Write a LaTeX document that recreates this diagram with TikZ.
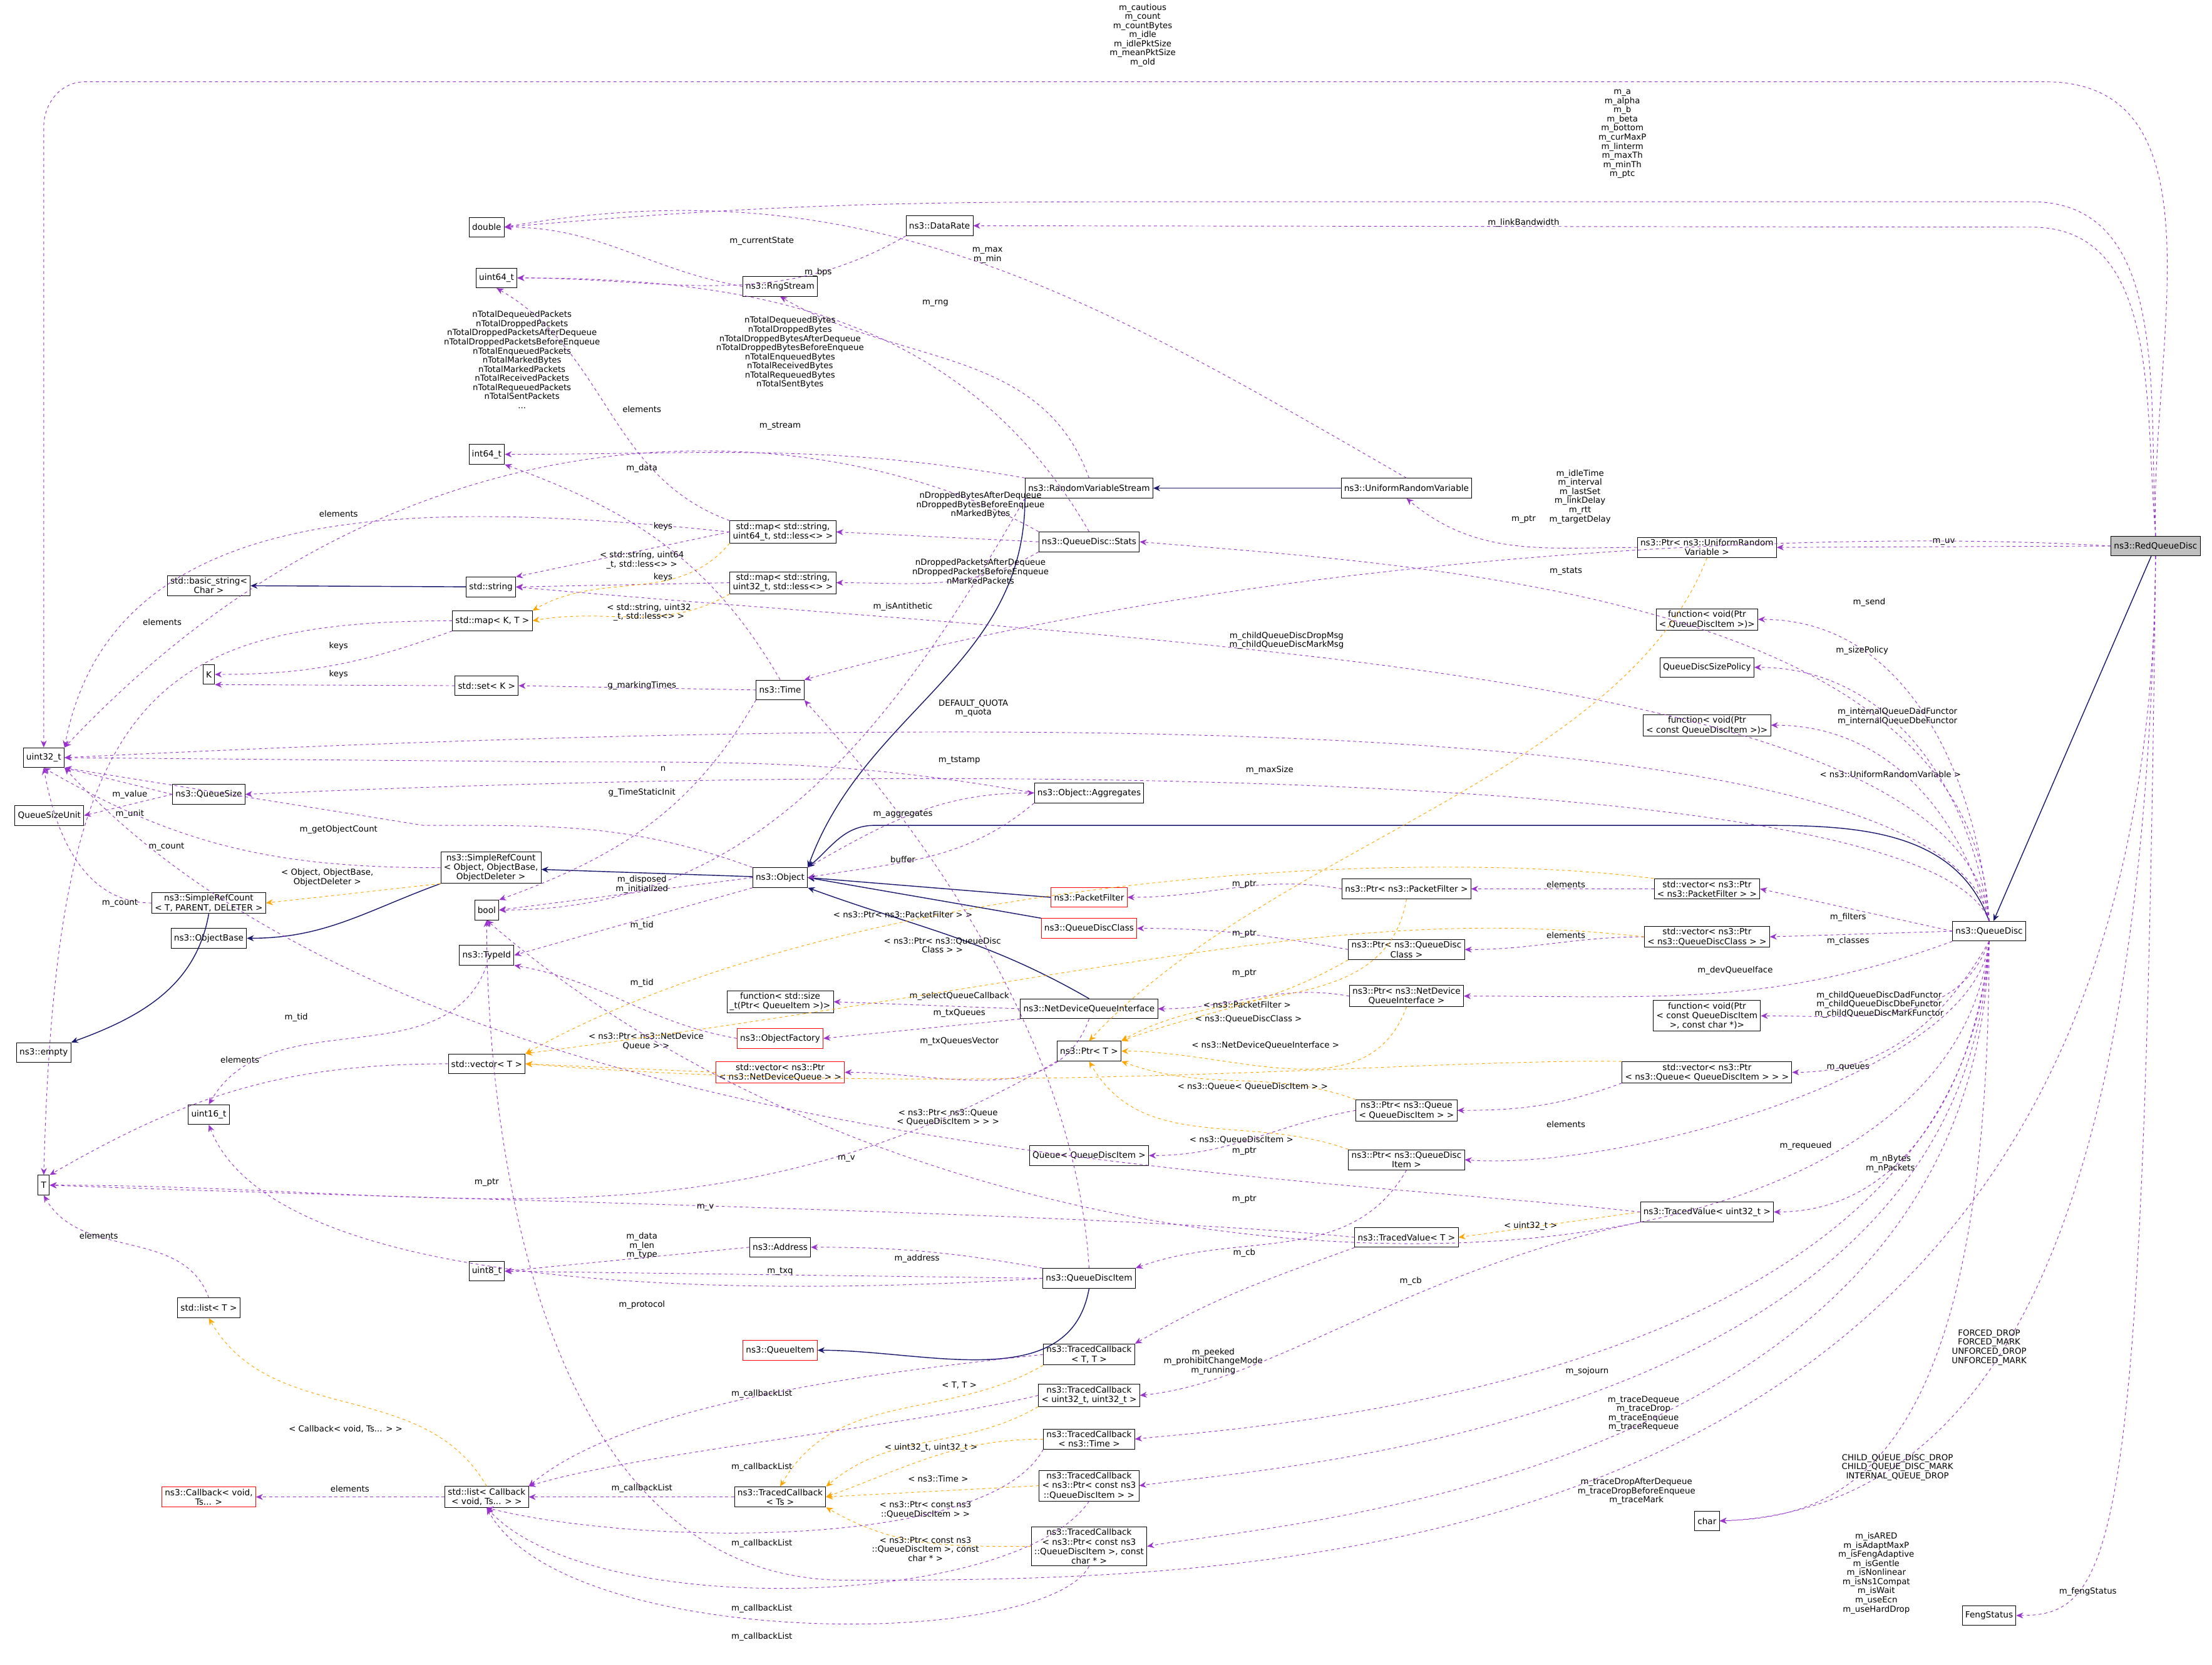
\documentclass[tikz,border=0pt]{standalone}
\usepackage{fontspec}
\setmainfont{DejaVu Sans}
\usetikzlibrary{arrows.meta}
\begin{document}
\begin{tikzpicture}[x=0.05cm,y=-0.05cm,
 every node/.style={font=\fontsize{8.6}{9.6}\selectfont},
 box/.style={draw=black,line width=0.6pt,fill=white,inner xsep=3pt,inner ysep=2pt,minimum height=0.7cm,align=center},
 redbox/.style={box,draw=red},
 lbl/.style={align=center,inner sep=0pt,font=\fontsize{8.4}{9.2}\selectfont},
 coll/.style={draw={rgb,255:red,154;green,50;blue,205},dashed,line width=0.6pt,-{Stealth[length=7pt,width=6pt]}},
 tmpl/.style={draw={rgb,255:red,255;green,165;blue,0},dashed,line width=0.6pt,-{Stealth[length=7pt,width=6pt]}},
 inh/.style={draw={rgb,255:red,25;green,25;blue,112},line width=0.9pt,-{Stealth[length=7pt,width=6pt]}}]
\useasboundingbox (0,0) rectangle (1568,1180);
% nodes
\node[box,fill=black!25] (rqd) at (1528,387) {ns3::RedQueueDisc};
\node[box] (qd) at (1410,660) {ns3::QueueDisc};
\node[box] (dbl) at (345,161) {double};
\node[box] (dr) at (666,160) {ns3::DataRate};
\node[box] (u64) at (352,197) {uint64\_t};
\node[box] (rng) at (553,203) {ns3::RngStream};
\node[box] (i64) at (345,322) {int64\_t};
\node[box] (mapu64) at (555,377) {std::map< std::string,\\ uint64\_t, std::less<> >};
\node[box] (mapu32) at (555,413) {std::map< std::string,\\ uint32\_t, std::less<> >};
\node[box] (rvs) at (772,346) {ns3::RandomVariableStream};
\node[box] (urv) at (997,346) {ns3::UniformRandomVariable};
\node[box] (stats) at (772,384) {ns3::QueueDisc::Stats};
\node[box] (ptruv) at (1210,388) {ns3::Ptr< ns3::UniformRandom\\ Variable >};
\node[box] (bstr) at (148,415) {std::basic\_string<\\ Char >};
\node[box] (str) at (348,416) {std::string};
\node[box] (mapKT) at (349,440) {std::map< K, T >};
\node[box] (K) at (148,478) {K};
\node[box] (setK) at (345,486) {std::set< K >};
\node[box] (time) at (553,489) {ns3::Time};
\node[box] (fsend) at (1210,439) {function< void(Ptr\\ < QueueDiscItem >)>};
\node[box] (qdsp) at (1210,473) {QueueDiscSizePolicy};
\node[box] (fconst) at (1210,514) {function< void(Ptr\\ < const QueueDiscItem >)>};
\node[box] (u32) at (31,537) {uint32\_t};
\node[box] (qsu) at (35,578) {QueueSizeUnit};
\node[box] (qsize) at (148,563) {ns3::QueueSize};
\node[box] (aggr) at (772,562) {ns3::Object::Aggregates};
\node[box] (src) at (348,615) {ns3::SimpleRefCount\\ < Object, ObjectBase,\\ ObjectDeleter >};
\node[box] (obj) at (553,622) {ns3::Object};
\node[redbox] (pf) at (772,636) {ns3::PacketFilter};
\node[box] (ptrpf) at (997,630) {ns3::Ptr< ns3::PacketFilter >};
\node[box] (vecpf) at (1210,630) {std::vector< ns3::Ptr\\ < ns3::PacketFilter > >};
\node[box] (srct) at (148,640) {ns3::SimpleRefCount\\ < T, PARENT, DELETER >};
\node[box] (bool) at (345,645) {bool};
\node[redbox] (qdc) at (772,658) {ns3::QueueDiscClass};
\node[box] (ptrqdc) at (997,673) {ns3::Ptr< ns3::QueueDisc\\ Class >};
\node[box] (vecqdc) at (1210,664) {std::vector< ns3::Ptr\\ < ns3::QueueDiscClass > >};
\node[box] (obase) at (148,665) {ns3::ObjectBase};
\node[box] (tid) at (345,677) {ns3::TypeId};
\node[box] (ptrndqi) at (997,706) {ns3::Ptr< ns3::NetDevice\\ QueueInterface >};
\node[box] (fsize) at (553,710) {function< std::size\\ \_t(Ptr< QueueItem >)>};
\node[box] (ndqi) at (772,715) {ns3::NetDeviceQueueInterface};
\node[redbox] (ofac) at (553,736) {ns3::ObjectFactory};
\node[box] (fcc) at (1210,720) {function< void(Ptr\\ < const QueueDiscItem\\ >, const char *)>};
\node[box] (ptrT) at (772,745) {ns3::Ptr< T >};
\node[box] (vecT) at (345,754) {std::vector< T >};
\node[box] (empty) at (31,746) {ns3::empty};
\node[redbox] (vecndq) at (553,760) {std::vector< ns3::Ptr\\ < ns3::NetDeviceQueue > >};
\node[box] (vecq) at (1210,760) {std::vector< ns3::Ptr\\ < ns3::Queue< QueueDiscItem > > >};
\node[box] (u16) at (148,790) {uint16\_t};
\node[box] (ptrq) at (997,787) {ns3::Ptr< ns3::Queue\\ < QueueDiscItem > >};
\node[box] (queue) at (772,819) {Queue< QueueDiscItem >};
\node[box] (ptrqdi) at (997,822) {ns3::Ptr< ns3::QueueDisc\\ Item >};
\node[box] (T) at (31,840) {T};
\node[box] (tvu32) at (1210,859) {ns3::TracedValue< uint32\_t >};
\node[box] (tvT) at (997,877) {ns3::TracedValue< T >};
\node[box] (addr) at (553,884) {ns3::Address};
\node[box] (u8) at (345,901) {uint8\_t};
\node[box] (qdi) at (772,906) {ns3::QueueDiscItem};
\node[box] (listT) at (148,927) {std::list< T >};
\node[redbox] (qitem) at (553,957) {ns3::QueueItem};
\node[box] (tcTT) at (772,960) {ns3::TracedCallback\\ < T, T >};
\node[box] (tcuu) at (772,989) {ns3::TracedCallback\\ < uint32\_t, uint32\_t >};
\node[box] (tctime) at (772,1020) {ns3::TracedCallback\\ < ns3::Time >};
\node[box] (tcptr) at (772,1053) {ns3::TracedCallback\\ < ns3::Ptr< const ns3\\ ::QueueDiscItem > >};
\node[box] (tcts) at (553,1061) {ns3::TracedCallback\\ < Ts >};
\node[box] (listcb) at (345,1061) {std::list< Callback\\ < void, Ts... > >};
\node[redbox] (cb) at (148,1061) {ns3::Callback< void,\\ Ts... >};
\node[box] (tcpc) at (772,1096) {ns3::TracedCallback\\ < ns3::Ptr< const ns3\\ ::QueueDiscItem >, const\\ char * >};
\node[box] (char) at (1210,1078) {char};
\node[box] (feng) at (1410,1145) {FengStatus};
% inheritance
\draw[inh] (rqd) -- (qd);
\draw[inh] (urv) -- (rvs);
\draw[inh] (rvs.south west) to[out=-90,in=70] (obj.north east);
\draw[inh] (qd.north) to[out=110,in=0] (1250,585) -- (620,585) to[out=180,in=40] (obj.north east);
\draw[inh] (ndqi.north) to[out=150,in=-20] (obj.south east);
\draw[inh] (pf.west) -- (obj.east);
\draw[inh] (qdc.north west) to[out=170,in=-10] (obj.east);
\draw[inh] (obj) -- (src);
\draw[inh] (src.south west) to[out=-160,in=0] (obase.east);
\draw[inh] (srct.south) to[out=-100,in=20] (empty.north east);
\draw[inh] (str) -- (bstr);
\draw[inh] (qdi.south) to[out=-100,in=0] (qitem.east);
% RedQueueDisc members
\draw[coll] (rqd.north) to[out=92,in=0] (1450,58) -- (60,58) to[out=180,in=90] (31,90) -- (u32.north);
\node[lbl] (l1) at (810,25) {m\_cautious\\m\_count\\m\_countBytes\\m\_idle\\m\_idlePktSize\\m\_meanPktSize\\m\_old};
\node[lbl] (l2) at (1150,95) {m\_a\\m\_alpha\\m\_b\\m\_beta\\m\_bottom\\m\_curMaxP\\m\_linterm\\m\_maxTh\\m\_minTh\\m\_ptc};
\draw[coll] (rqd.north) to[out=93,in=0] (1440,143) -- (800,143) to[out=180,in=5] (dbl.east);
\draw[coll] (rqd.north) to[out=95,in=0] (1440,161) -- (dr.east);
\node[lbl] (l3) at (1080,158) {m\_linkBandwidth};
\draw[coll] (rqd.west) -- (ptruv.east) node[lbl,midway,above=1pt] (l4) {m\_uv};
\draw[coll] (rqd.west) .. controls (1300,375) and (900,390) .. (time.north east);
\node[lbl] (l5) at (1120,352) {m\_idleTime\\m\_interval\\m\_lastSet\\m\_linkDelay\\m\_rtt\\m\_targetDelay};
\draw[coll] (rqd.south) .. controls (1520,900) and (1400,1070) .. (char.east);
\node[lbl] (l6) at (1410,955) {FORCED\_DROP\\FORCED\_MARK\\UNFORCED\_DROP\\UNFORCED\_MARK};
\draw[coll] (rqd.south) .. controls (1525,1120) and (900,1120) .. (600,1120) .. controls (380,1120) and (345,800) .. (bool.south);
\node[lbl] (l7) at (1330,1115) {m\_isARED\\m\_isAdaptMaxP\\m\_isFengAdaptive\\m\_isGentle\\m\_isNonlinear\\m\_isNs1Compat\\m\_isWait\\m\_useEcn\\m\_useHardDrop};
\draw[coll] (rqd.south) .. controls (1520,1100) and (1500,1145) .. (feng.east);
\node[lbl] (l8) at (1480,1128) {m\_fengStatus};
% misc members
\draw[coll] (dr.south west) to[out=-150,in=0] (u64.east);
\node[lbl] (l9) at (580,193) {m\_bps};
\draw[coll] (urv.north) to[out=150,in=10] (dbl.east);
\node[lbl] (l10) at (700,181) {m\_max\\m\_min};
\draw[coll] (rvs.north) to[out=110,in=-30] (rng.south);
\node[lbl] (l11) at (663,215) {m\_rng};
\draw[coll] (rvs.north west) to[out=170,in=0] (i64.east);
\node[lbl] (l12) at (553,302) {m\_stream};
\draw[coll] (rvs.south west) to[out=-120,in=0] (bool.east);
\node[lbl] (l13) at (640,430) {m\_isAntithetic};
\draw[coll] (rng.west) to[out=170,in=0] (dbl.east);
\node[lbl] (l14) at (540,171) {m\_currentState};
\draw[coll] (stats.north) to[out=120,in=0] (u64.east);
\node[lbl] (l15) at (560,250) {nTotalDequeuedBytes\\nTotalDroppedBytes\\nTotalDroppedBytesAfterDequeue\\nTotalDroppedBytesBeforeEnqueue\\nTotalEnqueuedBytes\\nTotalReceivedBytes\\nTotalRequeuedBytes\\nTotalSentBytes};
\draw[coll] (stats.north west) .. controls (600,300) and (300,260) .. (u32.north east);
\node[lbl] (l16) at (370,255) {nTotalDequeuedPackets\\nTotalDroppedPackets\\nTotalDroppedPacketsAfterDequeue\\nTotalDroppedPacketsBeforeEnqueue\\nTotalEnqueuedPackets\\nTotalMarkedBytes\\nTotalMarkedPackets\\nTotalReceivedPackets\\nTotalRequeuedPackets\\nTotalSentPackets\\...};
\draw[coll] (stats.west) -- (mapu64.east);
\node[lbl] (l17) at (695,358) {nDroppedBytesAfterDequeue\\nDroppedBytesBeforeEnqueue\\nMarkedBytes};
\draw[coll] (stats.south west) to[out=-150,in=0] (mapu32.east);
\node[lbl] (l18) at (695,405) {nDroppedPacketsAfterDequeue\\nDroppedPacketsBeforeEnqueue\\nMarkedPackets};
\draw[coll] (mapu64.north west) to[out=160,in=-30] (u64.south);
\node[lbl] (l19) at (455,290) {elements};
\draw[coll] (mapu64.west) .. controls (300,355) and (80,350) .. (u32.north east);
\node[lbl] (l20) at (240,364) {elements};
\draw[coll] (mapu64.west) -- (str.north east);
\node[lbl] (l21) at (470,373) {keys};
\draw[coll] (mapu32.west) -- (str.east);
\node[lbl] (l22) at (470,409) {keys};
\draw[tmpl] (mapu64.south west) to[out=-130,in=30] (mapKT.north east);
\node[lbl] (l23) at (455,397) {< std::string, uint64\\\_t, std::less<> >};
\draw[tmpl] (mapu32.south west) to[out=-150,in=10] (mapKT.east);
\node[lbl] (l24) at (460,434) {< std::string, uint32\\\_t, std::less<> >};
\draw[coll] (mapKT.south west) to[out=-160,in=0] (K.east);
\node[lbl] (l25) at (240,458) {keys};
\draw[coll] (mapKT.west) .. controls (100,440) and (40,500) .. (T.north);
\node[lbl] (l26) at (115,441) {elements};
\draw[coll] (setK.west) -- (K.south east);
\node[lbl] (l27) at (240,478) {keys};
\draw[coll] (time.west) -- (setK.east);
\node[lbl] (l28) at (455,486) {g\_markingTimes};
\draw[coll] (time.north) to[out=120,in=-20] (i64.south east);
\node[lbl] (l29) at (455,332) {m\_data};
\draw[coll] (time.south west) to[out=-120,in=20] (bool.north east);
\node[lbl] (l30) at (455,562) {g\_TimeStaticInit};
\draw[coll] (qsize.west) -- (u32.south east);
\node[lbl] (l31) at (92,563) {m\_value};
\draw[coll] (qsize.west) -- (qsu.east);
\node[lbl] (l32) at (92,577) {m\_unit};
\draw[coll] (aggr.west) to[out=170,in=0] (400,540) -- (u32.east);
\node[lbl] (l33) at (470,545) {n};
\draw[coll] (aggr.south west) to[out=-140,in=10] (obj.east);
\node[lbl] (l34) at (640,609) {buffer};
\draw[coll] (obj.north east) to[out=30,in=180] (aggr.west);
\node[lbl] (l35) at (640,577) {m\_aggregates};
\draw[coll] (obj.north west) to[out=160,in=0] (300,585) -- (u32.south east);
\node[lbl] (l36) at (240,588) {m\_getObjectCount};
\draw[coll] (src.west) to[out=180,in=-30] (u32.south);
\node[lbl] (l37) at (118,600) {m\_count};
\draw[coll] (srct.west) to[out=180,in=-80] (u32.south);
\node[lbl] (l38) at (85,640) {m\_count};
\draw[tmpl] (src.south west) -- (srct.east);
\node[lbl] (l39) at (232,622) {< Object, ObjectBase,\\ObjectDeleter >};
\draw[coll] (obj.west) -- (bool.east);
\node[lbl] (l40) at (455,627) {m\_disposed\\m\_initialized};
\draw[coll] (obj.south west) -- (tid.east);
\node[lbl] (l41) at (455,656) {m\_tid};
\draw[coll] (tid.south) to[out=-110,in=60] (u16.north);
\node[lbl] (l42) at (210,721) {m\_tid};
\draw[coll] (ofac.west) to[out=170,in=-10] (tid.south east);
\node[lbl] (l43) at (455,697) {m\_tid};
\draw[coll] (ndqi.west) -- (fsize.east);
\node[lbl] (l44) at (680,706) {m\_selectQueueCallback};
\draw[coll] (ndqi.south west) -- (ofac.east);
\node[lbl] (l45) at (680,718) {m\_txQueues};
\draw[coll] (ndqi.south) to[out=-110,in=0] (vecndq.east);
\node[lbl] (l46) at (680,738) {m\_txQueuesVector};
\draw[tmpl] (vecndq.west) -- (vecT.east);
\node[lbl] (l47) at (458,738) {< ns3::Ptr< ns3::NetDevice\\Queue > >};
\draw[coll] (ptrT.south west) to[out=-150,in=0] (T.east);
\node[lbl] (l48) at (345,838) {m\_ptr};
\draw[coll] (ptrpf.west) to[out=170,in=0] (pf.east);
\node[lbl] (l49) at (882,627) {m\_ptr};
\draw[coll] (ptrqdc.west) to[out=170,in=0] (qdc.east);
\node[lbl] (l50) at (882,662) {m\_ptr};
\draw[coll] (ptrndqi.west) to[out=170,in=0] (ndqi.east);
\node[lbl] (l51) at (882,690) {m\_ptr};
\draw[coll] (ptrq.west) to[out=-170,in=0] (queue.east);
\node[lbl] (l52) at (882,816) {m\_ptr};
\draw[coll] (ptrqdi.south) to[out=-120,in=20] (qdi.north east);
\node[lbl] (l53) at (882,850) {m\_ptr};
\draw[tmpl] (ptrpf.south) to[out=-100,in=30] (ptrT.north east);
\node[lbl] (l54) at (884,712) {< ns3::PacketFilter >};
\draw[tmpl] (ptrqdc.south west) to[out=-150,in=20] (ptrT.north east);
\node[lbl] (l55) at (885,722) {< ns3::QueueDiscClass >};
\draw[tmpl] (ptrndqi.south) to[out=-110,in=0] (ptrT.east);
\node[lbl] (l56) at (897,741) {< ns3::NetDeviceQueueInterface >};
\draw[tmpl] (ptrq.north west) to[out=160,in=-20] (ptrT.south east);
\node[lbl] (l57) at (888,770) {< ns3::Queue< QueueDiscItem > >};
\draw[tmpl] (ptrqdi.north west) to[out=160,in=-60] (ptrT.south);
\node[lbl] (l58) at (880,808) {< ns3::QueueDiscItem >};
\draw[tmpl] (ptruv.south) .. controls (1150,550) and (900,600) .. (ptrT.north);
\node[lbl] (l59) at (1340,549) {< ns3::UniformRandomVariable >};
\draw[coll] (ptruv.west) to[out=180,in=-40] (urv.south);
\node[lbl] (l60) at (1080,368) {m\_ptr};
\draw[coll] (vecpf.west) -- (ptrpf.east);
\node[lbl] (l61) at (1110,627) {elements};
\draw[coll] (vecqdc.west) to[out=180,in=0] (ptrqdc.east);
\node[lbl] (l62) at (1110,663) {elements};
\draw[coll] (vecq.south west) to[out=-160,in=0] (ptrq.east);
\node[lbl] (l63) at (1110,797) {elements};
\draw[tmpl] (vecpf.north west) .. controls (1000,600) and (600,620) .. (vecT.north east);
\node[lbl] (l64) at (640,648) {< ns3::Ptr< ns3::PacketFilter > >};
\draw[tmpl] (vecqdc.west) .. controls (950,640) and (800,690) .. (vecT.north east);
\node[lbl] (l65) at (668,670) {< ns3::Ptr< ns3::QueueDisc\\Class > >};
\draw[tmpl] (vecq.north west) .. controls (1000,750) and (700,780) .. (vecT.east);
\node[lbl] (l66) at (672,792) {< ns3::Ptr< ns3::Queue\\< QueueDiscItem > > >};
\draw[coll] (vecT.west) to[out=180,in=30] (T.north east);
\node[lbl] (l67) at (170,751) {elements};
% QueueDisc members
\draw[coll] (qd.west) -- (vecpf.east);
\node[lbl] (l68) at (1310,650) {m\_filters};
\draw[coll] (qd.west) -- (vecqdc.east);
\node[lbl] (l69) at (1310,667) {m\_classes};
\draw[coll] (qd.south west) to[out=-160,in=0] (ptrndqi.east);
\node[lbl] (l70) at (1230,688) {m\_devQueueIface};
\draw[coll] (qd.south) to[out=-120,in=0] (vecq.east);
\node[lbl] (l71) at (1310,757) {m\_queues};
\draw[coll] (qd.south) .. controls (1400,760) and (1150,830) .. (ptrqdi.east);
\node[lbl] (l72) at (1280,812) {m\_requeued};
\draw[coll] (qd.south) to[out=-95,in=0] (tvu32.east);
\node[lbl] (l73) at (1340,825) {m\_nBytes\\m\_nPackets};
\draw[coll] (qd.north) to[out=95,in=0] (fsend.east);
\node[lbl] (l74) at (1325,427) {m\_send};
\draw[coll] (qd.north) to[out=98,in=0] (qdsp.east);
\node[lbl] (l75) at (1320,461) {m\_sizePolicy};
\draw[coll] (qd.north) to[out=105,in=0] (fconst.east);
\node[lbl] (l76) at (1345,508) {m\_internalQueueDadFunctor\\m\_internalQueueDbeFunctor};
\draw[coll] (qd.south) to[out=-110,in=0] (fcc.east);
\node[lbl] (l77) at (1332,712) {m\_childQueueDiscDadFunctor\\m\_childQueueDiscDbeFunctor\\m\_childQueueDiscMarkFunctor};
\draw[coll] (qd.north) .. controls (1400,420) and (1000,400) .. (stats.east);
\node[lbl] (l78) at (1110,405) {m\_stats};
\draw[coll] (qd.north) .. controls (1390,470) and (800,455) .. (str.east);
\node[lbl] (l79) at (912,454) {m\_childQueueDiscDropMsg\\m\_childQueueDiscMarkMsg};
\draw[coll] (qd.north) .. controls (1380,500) and (700,505) .. (u32.east);
\node[lbl] (l80) at (690,502) {DEFAULT\_QUOTA\\m\_quota};
\draw[coll] (qd.north) .. controls (1370,545) and (700,540) .. (qsize.east);
\node[lbl] (l81) at (900,546) {m\_maxSize};
\draw[coll] (qd.south) .. controls (1380,950) and (700,960) .. (bool.south);
\node[lbl] (l82) at (860,965) {m\_peeked\\m\_prohibitChangeMode\\m\_running};
\draw[coll] (qd.south) .. controls (1390,980) and (900,1010) .. (tctime.east);
\node[lbl] (l83) at (1125,972) {m\_sojourn};
\draw[coll] (qd.south) .. controls (1395,1010) and (900,1040) .. (tcptr.east);
\node[lbl] (l84) at (1165,1002) {m\_traceDequeue\\m\_traceDrop\\m\_traceEnqueue\\m\_traceRequeue};
\draw[coll] (qd.south) .. controls (1400,1050) and (900,1080) .. (tcpc.east);
\node[lbl] (l85) at (1160,1057) {m\_traceDropAfterDequeue\\m\_traceDropBeforeEnqueue\\m\_traceMark};
\draw[coll] (qd.south) .. controls (1410,1050) and (1300,1075) .. (char.east);
\node[lbl] (l86) at (1345,1040) {CHILD\_QUEUE\_DISC\_DROP\\CHILD\_QUEUE\_DISC\_MARK\\INTERNAL\_QUEUE\_DROP};
% traced values
\draw[tmpl] (tvu32.west) -- (tvT.east);
\node[lbl] (l87) at (1085,869) {< uint32\_t >};
\draw[coll] (tvu32.west) .. controls (900,830) and (300,820) .. (u32.south east);
\node[lbl] (l88) at (600,821) {m\_v};
\draw[coll] (tvT.west) .. controls (800,860) and (300,850) .. (T.east);
\node[lbl] (l89) at (500,856) {m\_v};
\draw[coll] (tvT.south west) to[out=-160,in=30] (tcTT.north east);
\node[lbl] (l90) at (882,888) {m\_cb};
\draw[coll] (tvu32.south west) .. controls (1000,900) and (900,980) .. (tcuu.east);
\node[lbl] (l91) at (1000,908) {m\_cb};
\draw[coll] (qdi.north west) to[out=170,in=0] (addr.east);
\node[lbl] (l92) at (650,892) {m\_address};
\draw[coll] (qdi.west) -- (u8.east);
\node[lbl] (l93) at (553,901) {m\_txq};
\draw[coll] (qdi.west) .. controls (600,915) and (200,930) .. (u16.south);
\node[lbl] (l94) at (455,925) {m\_protocol};
\draw[coll] (qdi.north) .. controls (760,700) and (600,530) .. (time.south east);
\node[lbl] (l95) at (680,539) {m\_tstamp};
\draw[coll] (addr.west) -- (u8.east);
\node[lbl] (l96) at (455,883) {m\_data\\m\_len\\m\_type};
\draw[coll] (listT.north) to[out=110,in=-60] (T.south);
\node[lbl] (l97) at (70,876) {elements};
\draw[tmpl] (listcb.north) to[out=120,in=-60] (listT.south);
\node[lbl] (l98) at (245,1013) {< Callback< void, Ts... > >};
\draw[coll] (listcb.west) -- (cb.east);
\node[lbl] (l99) at (248,1055) {elements};
\draw[coll] (tcts.west) -- (listcb.east);
\node[lbl] (l100) at (455,1055) {m\_callbackList};
\draw[tmpl] (tcTT.south west) to[out=-150,in=60] (tcts.north);
\node[lbl] (l101) at (680,982) {< T, T >};
\draw[tmpl] (tcuu.south west) to[out=-150,in=40] (tcts.north east);
\node[lbl] (l102) at (660,1026) {< uint32\_t, uint32\_t >};
\draw[tmpl] (tctime.west) to[out=180,in=20] (tcts.east);
\node[lbl] (l103) at (665,1048) {< ns3::Time >};
\draw[tmpl] (tcptr.west) -- (tcts.east);
\node[lbl] (l104) at (656,1070) {< ns3::Ptr< const ns3\\::QueueDiscItem > >};
\draw[tmpl] (tcpc.west) to[out=180,in=-30] (tcts.south east);
\node[lbl] (l105) at (656,1098) {< ns3::Ptr< const ns3\\::QueueDiscItem >, const\\char * >};
\draw[coll] (tcTT.west) .. controls (650,970) and (450,990) .. (listcb.north east);
\node[lbl] (l106) at (540,988) {m\_callbackList};
\draw[coll] (tcuu.west) .. controls (650,1010) and (450,1030) .. (listcb.north east);
\node[lbl] (l107) at (540,1040) {m\_callbackList};
\draw[coll] (tctime.south west) .. controls (700,1100) and (450,1095) .. (listcb.south);
\node[lbl] (l108) at (540,1094) {m\_callbackList};
\draw[coll] (tcptr.south) .. controls (720,1140) and (420,1150) .. (listcb.south);
\node[lbl] (l109) at (540,1140) {m\_callbackList};
\draw[coll] (tcpc.south) .. controls (740,1170) and (400,1170) .. (listcb.south);
\node[lbl] (l110) at (540,1160) {m\_callbackList};
\end{tikzpicture}
\end{document}
